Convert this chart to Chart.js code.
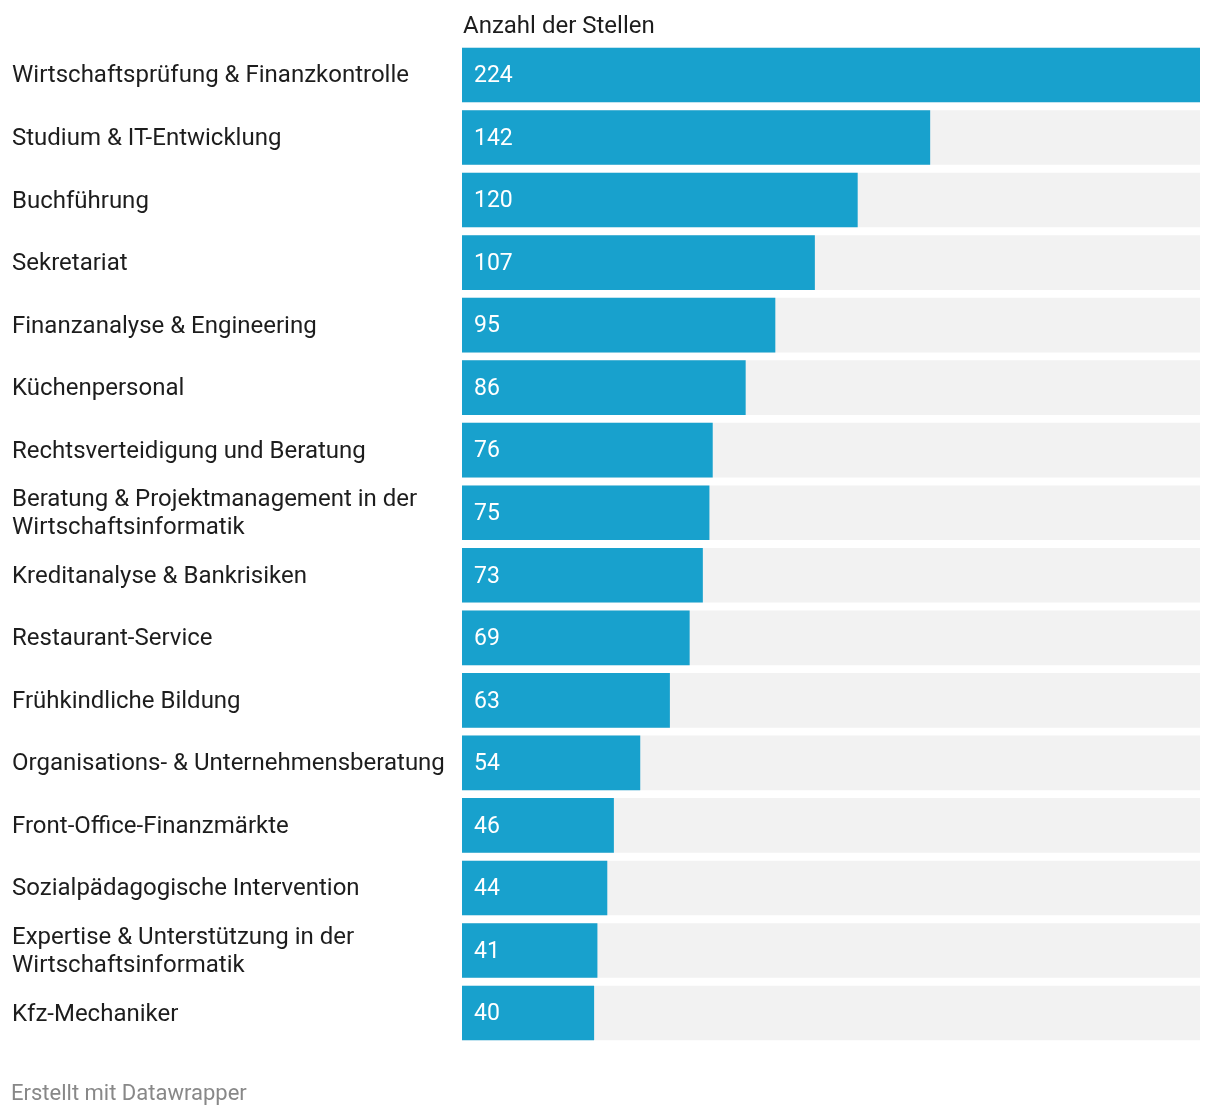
<!DOCTYPE html>
<html>
<head>
<meta charset="utf-8">
<script src="https://cdn.jsdelivr.net/npm/chart.js@4.4.1/dist/chart.umd.min.js"></script>
<style>
    body { margin: 0; background: #fff; font-family: Roboto, sans-serif; }
    #wrap { position: relative; width: 1220px; height: 1116px; }
    #footer { position: absolute; left: 11px; top: 1080px; font-size: 22px; color: #888; }
</style>
</head>
<body>
<div id="wrap">
    <canvas id="jobsChart" width="1220" height="1116"></canvas>
    <div id="footer">Erstellt mit Datawrapper</div>
</div>
<script>
const categories = [
    'Wirtschaftsprüfung & Finanzkontrolle',
    'Studium & IT-Entwicklung',
    'Buchführung',
    'Sekretariat',
    'Finanzanalyse & Engineering',
    'Küchenpersonal',
    'Rechtsverteidigung und Beratung',
    ['Beratung & Projektmanagement in der', 'Wirtschaftsinformatik'],
    'Kreditanalyse & Bankrisiken',
    'Restaurant-Service',
    'Frühkindliche Bildung',
    'Organisations- & Unternehmensberatung',
    'Front-Office-Finanzmärkte',
    'Sozialpädagogische Intervention',
    ['Expertise & Unterstützung in der', 'Wirtschaftsinformatik'],
    'Kfz-Mechaniker'
];
const stellen = [224, 142, 120, 107, 95, 86, 76, 75, 73, 69, 63, 54, 46, 44, 41, 40];
const columnTitle = 'Anzahl der Stellen';

const maxValue = Math.max(...stellen);
// grauer Hintergrundbalken über die volle Breite
const track = stellen.map(() => maxValue);

const barColor = '#18a1cd';
const trackColor = '#f2f2f2';
const textColor = '#1d1d1d';

// Werte in die Balken schreiben + Spaltentitel
const valueLabels = {
    id: 'valueLabels',
    afterDatasetsDraw(chart) {
        const ctx = chart.ctx;
        const meta = chart.getDatasetMeta(0);
        ctx.save();
        ctx.font = '23px Roboto';
        ctx.fillStyle = '#ffffff';
        ctx.textAlign = 'left';
        ctx.textBaseline = 'middle';
        meta.data.forEach((bar, i) => {
            ctx.fillText(String(stellen[i]), bar.base + 12, bar.y + 1.5);
        });
        ctx.font = '24px Roboto';
        ctx.fillStyle = textColor;
        ctx.fillText(columnTitle, chart.chartArea.left + 1, 26.5);
        ctx.restore();
    }
};

new Chart(document.getElementById('jobsChart'), {
    type: 'bar',
    data: {
        labels: categories,
        datasets: [{
            label: columnTitle,
            data: stellen,
            backgroundColor: barColor,
            barThickness: 54,
            grouped: false,
            order: 1
        }, {
            label: 'track',
            data: track,
            backgroundColor: trackColor,
            barThickness: 54,
            grouped: false,
            order: 2
        }]
    },
    options: {
        indexAxis: 'y',
        responsive: false,
        animation: false,
        layout: {
            padding: { left: 12, right: 20, top: 43.7, bottom: 71.7 }
        },
        plugins: {
            legend: { display: false },
            tooltip: { enabled: false }
        },
        scales: {
            x: {
                display: false,
                min: 0,
                max: maxValue
            },
            y: {
                grid: { display: false, drawTicks: false },
                border: { display: false },
                afterFit(scale) { scale.width = 450; },
                ticks: {
                    crossAlign: 'far',
                    padding: 0,
                    labelOffset: 1.5,
                    color: textColor,
                    font: { family: 'Roboto', size: 24, lineHeight: 1.17 }
                }
            }
        }
    },
    plugins: [valueLabels]
});
</script>
</body>
</html>
